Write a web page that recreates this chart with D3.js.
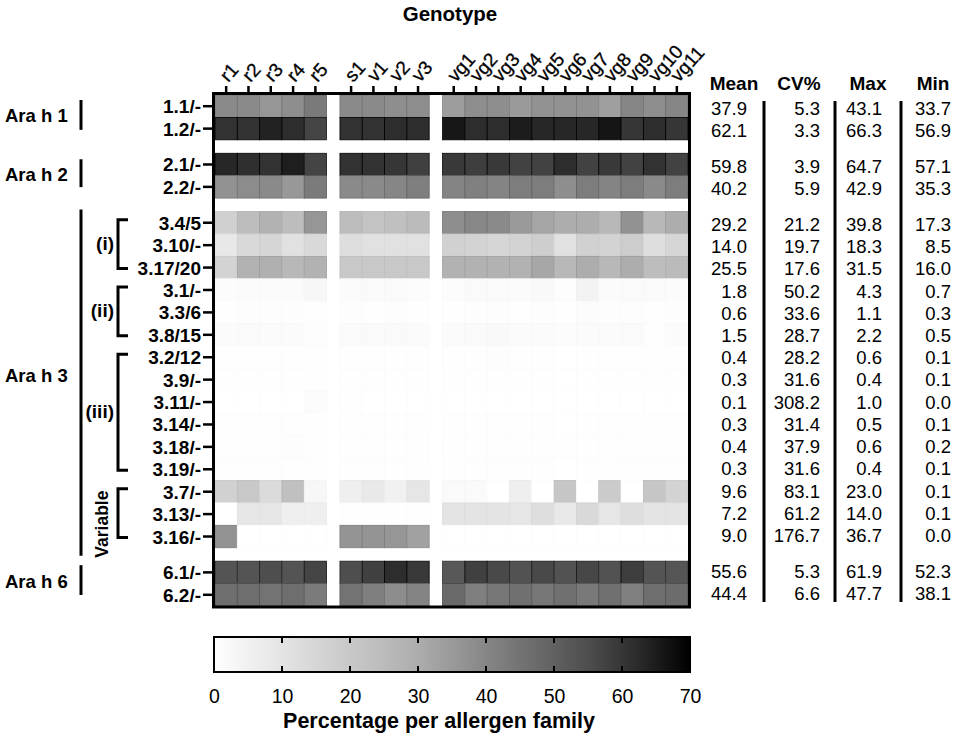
<!DOCTYPE html>
<html>
<head>
<meta charset="utf-8">
<script src="https://cdn.jsdelivr.net/npm/d3@7"></script>
<style>
  body { margin: 0; background: #fff; }
  text { font-family: "Liberation Sans", Arial, sans-serif; fill: #000; }
</style>
</head>
<body>
<script>
// genotypes (columns), in three blocks separated by a white gap
var genoR = ["r1","r2","r3","r4","r5"];
var genoSV = ["s1","v1","v2","v3"];
var genoVG = ["vg1","vg2","vg3","vg4","vg5","vg6","vg7","vg8","vg9","vg10","vg11"];

// isoform rows
var rowLabels = ["1.1/-","1.2/-","2.1/-","2.2/-","3.4/5","3.10/-","3.17/20","3.1/-","3.3/6","3.8/15",
                 "3.2/12","3.9/-","3.11/-","3.14/-","3.18/-","3.19/-","3.7/-","3.13/-","3.16/-","6.1/-","6.2/-"];
var rowBlock = [0,0,1,1,2,2,2,2,2,2,2,2,2,2,2,2,2,2,2,3,3];

// percentage per allergen family, one array per row (columns r1..vg11)
var ah1_1 = [39,39,36,38,43.1,39,39,38,38,34,38,38,35,37,37,37,33.7,40,38,40];
var ah1_2 = [61,61,64,62,56.9,61,61,62,62,66,62,62,65,63,63,63,66.3,60,62,60];
var ah2_1 = [63,61.5,61,64.7,57.1,61,61,60,58,59.5,58.5,59.5,57.5,57.5,62,57.5,59.5,57.5,61,57.5];
var ah2_2 = [37,38.5,39,35.3,42.9,39,39,40,42,40.5,41.5,40.5,42.5,42.5,38,42.5,40.5,42.5,39,42.5];
var ah3_4 = [17.3,24,28,24,36,24,22,23,25,38,39.8,39,35,32,30,30,26,37,26,30];
var ah3_10 = [8.5,14,15,11,14,12,11,11,11,17,16,15,16,18,11,17,16,18.3,12,15];
var ah3_17 = [16.0,28,29,26,28,20,20,20,20,28,28,28,28,31.5,26,30,26,30,24,25];
var ah3_1 = [1.2,1.5,1.5,1.5,3.0,1.5,1.8,1.8,1.2,1.0,1.8,2.0,1.5,2.2,0.7,4.3,1.5,1.8,2.0,1.5];
var ah3_3 = [0.5,0.8,0.6,0.7,0.4,0.6,0.5,0.7,0.4,0.3,0.6,0.7,0.5,0.6,0.4,1.1,0.6,0.7,0.5,0.6];
var ah3_8 = [1.5,1.8,1.6,1.6,0.8,1.6,1.7,1.8,1.5,1.4,2.0,2.2,1.6,1.6,1.2,1.4,1.5,1.7,0.5,1.3];
var ah3_2 = [0.4,0.5,0.5,0.5,0.3,0.5,0.4,0.4,0.3,0.3,0.5,0.6,0.4,0.4,0.1,0.3,0.4,0.5,0.3,0.4];
var ah3_9 = [0.3,0.4,0.3,0.4,0.2,0.3,0.3,0.4,0.3,0.2,0.3,0.4,0.3,0.3,0.1,0.3,0.3,0.4,0.2,0.3];
var ah3_11 = [0,0,0,0,1.0,0.3,0.1,0,0,0,0,0,0,0,0,0,0,0,0,0];
var ah3_14 = [0.3,0.4,0.3,0.5,0.2,0.3,0.3,0.4,0.2,0.2,0.3,0.4,0.3,0.3,0.1,0.3,0.3,0.4,0.2,0.3];
var ah3_18 = [0.4,0.5,0.4,0.6,0.3,0.4,0.4,0.5,0.3,0.3,0.4,0.5,0.4,0.4,0.2,0.4,0.4,0.5,0.3,0.4];
var ah3_19 = [0.3,0.3,0.4,0.4,0.2,0.3,0.4,0.3,0.2,0.2,0.3,0.3,0.4,0.3,0.1,0.3,0.2,0.4,0.3,0.3];
var ah3_7 = [17,20,13,23.0,3,6,8,5,9,2,2,0.1,6,0.1,21,0.1,19,0.1,21,16];
var ah3_13 = [0.1,9,9,6,6,0.2,0.2,0.2,0.2,10,10,10,9,12,8,14.0,9,12,10,10];
var ah3_16 = [36.7,0,0,0,0,36.5,36.5,36,33,0,0,0,0,0,0,0,0,0,0,0];
var ah6_1 = [53.5,53.5,55,53.5,57,55,58,61.9,59.5,52.3,58,56,54,56,54,56.5,54,58.5,53.5,53];
var ah6_2 = [46.5,46.5,45,46.5,43,45,42,38.1,40.5,47.7,42,44,46,44,46,43.5,46,41.5,46.5,47];

// summary table
var meanVals = ["37.9","62.1","59.8","40.2","29.2","14.0","25.5","1.8","0.6","1.5","0.4","0.3","0.1","0.3","0.4","0.3","9.6","7.2","9.0","55.6","44.4"];
var cvVals = ["5.3","3.3","3.9","5.9","21.2","19.7","17.6","50.2","33.6","28.7","28.2","31.6","308.2","31.4","37.9","31.6","83.1","61.2","176.7","5.3","6.6"];
var maxVals = ["43.1","66.3","64.7","42.9","39.8","18.3","31.5","4.3","1.1","2.2","0.6","0.4","1.0","0.5","0.6","0.4","23.0","14.0","36.7","61.9","47.7"];
var minVals = ["33.7","56.9","57.1","35.3","17.3","8.5","16.0","0.7","0.3","0.5","0.1","0.1","0.0","0.1","0.2","0.1","0.1","0.1","0.0","52.3","38.1"];
var colorTicks = [0,10,20,30,40,50,60,70];

var rowValues = [ah1_1,ah1_2,ah2_1,ah2_2,ah3_4,ah3_10,ah3_17,ah3_1,ah3_3,ah3_8,ah3_2,ah3_9,ah3_11,
                 ah3_14,ah3_18,ah3_19,ah3_7,ah3_13,ah3_16,ah6_1,ah6_2];

var genotypes = genoR.concat(genoSV, genoVG);
var colBlock = genotypes.map(function(g){ return genoR.indexOf(g) >= 0 ? 0 : (genoSV.indexOf(g) >= 0 ? 1 : 2); });

var GAP = 0.6;
var colUnit = genotypes.map(function(g,i){ return i + GAP*colBlock[i]; });
var rowUnit = rowLabels.map(function(r,i){ return i + GAP*rowBlock[i]; });

var x = d3.scaleLinear().domain([0, genotypes.length + 2*GAP]).range([215, 688]);
var y = d3.scaleLinear().domain([0, rowLabels.length + 3*GAP]).range([95, 606]);
var cw = x(1) - x(0), ch = y(1) - y(0);

// grey scale, white (0) to black (70)
var greyLevel = d3.scaleLinear().domain([0,15,30,40,55,62,70]).range([255,214,173,134,78,45,0]).clamp(true);
function grey(v){ var g = Math.round(greyLevel(v)); return d3.rgb(g,g,g).toString(); }

var svg = d3.select("body").append("svg")
  .attr("width", 957).attr("height", 749);

svg.append("text").attr("x", 450).attr("y", 21).attr("text-anchor","middle")
  .style("font-size","20.5px").style("font-weight","bold").text("Genotype");

// cells
var cells = [];
rowValues.forEach(function(arr, r){
  arr.forEach(function(v, c){ cells.push({r:r, c:c, v:v}); });
});

svg.append("g").selectAll("rect").data(cells).enter().append("rect")
  .attr("x", function(d){ return x(colUnit[d.c]); })
  .attr("y", function(d){ return y(rowUnit[d.r]); })
  .attr("width", cw).attr("height", ch)
  .attr("fill", function(d){ return grey(d.v); })
  .attr("stroke", function(d){ return grey(Math.min(70, d.v*1.15 + 1)); })
  .attr("stroke-width", 0.8);

// frame
svg.append("rect").attr("x", 213.5).attr("y", 93.5).attr("width", 476).attr("height", 513.5)
  .attr("fill","none").attr("stroke","#000").attr("stroke-width",3);

// column ticks and labels
svg.append("g").selectAll("line").data(genotypes).enter().append("line")
  .attr("x1", function(d,i){ return x(colUnit[i] + 0.5); })
  .attr("x2", function(d,i){ return x(colUnit[i] + 0.5); })
  .attr("y1", 86).attr("y2", 93)
  .attr("stroke","#000").attr("stroke-width",2.5);

svg.append("g").selectAll("text").data(genotypes).enter().append("text")
  .attr("transform", function(d,i){ return "translate(" + (x(colUnit[i] + 0.5) + 2) + ",83) rotate(-48)"; })
  .style("font-size","19px")
  .attr("stroke","#000").attr("stroke-width",0.3)
  .text(function(d){ return d; });

// row ticks and labels
svg.append("g").selectAll("line").data(rowLabels).enter().append("line")
  .attr("x1", 203).attr("x2", 213)
  .attr("y1", function(d,i){ return y(rowUnit[i] + 0.5); })
  .attr("y2", function(d,i){ return y(rowUnit[i] + 0.5); })
  .attr("stroke","#000").attr("stroke-width",2.5);

svg.append("g").selectAll("text").data(rowLabels).enter().append("text")
  .attr("x", 201)
  .attr("y", function(d,i){ return y(rowUnit[i] + 0.5) + 7; })
  .attr("text-anchor","end")
  .style("font-size","19px").style("font-weight","bold")
  .text(function(d){ return d; });

// allergen family labels with bars
var families = [
  {name:"Ara h 1", first:0, last:1, t:5, b:-10, dy:5},
  {name:"Ara h 2", first:2, last:3, t:6, b:-11, dy:5},
  {name:"Ara h 3", first:4, last:18, t:-2, b:8, dy:2},
  {name:"Ara h 6", first:19, last:20, t:4, b:-11, dy:4}
];
families.forEach(function(f){
  var top = y(rowUnit[f.first]), bot = y(rowUnit[f.last] + 1);
  svg.append("line").attr("x1",81).attr("x2",81)
    .attr("y1", top + f.t).attr("y2", bot + f.b)
    .attr("stroke","#000").attr("stroke-width",3);
  svg.append("text").attr("x", 5).attr("y", (top + bot)/2 + f.dy)
    .style("font-size","18.5px").style("font-weight","bold").text(f.name);
});

// Ara h 3 sub-groups with brackets
var subGroups = [
  {name:"(i)", first:4, last:6},
  {name:"(ii)", first:7, last:9},
  {name:"(iii)", first:10, last:15},
  {name:"Variable", first:16, last:18}
];
subGroups.forEach(function(s){
  var top = y(rowUnit[s.first] + 0.5) - 3, bot = y(rowUnit[s.last] + 0.5) + 1;
  svg.append("path")
    .attr("d", "M128," + top + "H118V" + bot + "H128")
    .attr("fill","none").attr("stroke","#000").attr("stroke-width",3);
  if (s.name === "Variable") {
    svg.append("text").attr("transform","translate(108," + ((top + bot)/2 + 11) + ") rotate(-90)")
      .attr("text-anchor","middle")
      .style("font-size","17.5px").style("font-weight","bold").text(s.name);
  } else {
    svg.append("text").attr("x", 114).attr("y", (top + bot)/2 + 6)
      .attr("text-anchor","end")
      .style("font-size","19px").style("font-weight","bold").text(s.name);
  }
});

// summary table
var tableCols = [
  {head:"Mean", vals:meanVals, right:747, hx:734},
  {head:"CV%", vals:cvVals, right:820, hx:799},
  {head:"Max", vals:maxVals, right:882, hx:868},
  {head:"Min", vals:minVals, right:951, hx:933}
];
tableCols.forEach(function(tc){
  svg.append("text").attr("x", tc.hx).attr("y", 90).attr("text-anchor","middle")
    .style("font-size","19px").style("font-weight","bold").text(tc.head);
  svg.append("g").selectAll("text").data(tc.vals).enter().append("text")
    .attr("x", tc.right)
    .attr("y", function(d,i){ var cy = y(rowUnit[i] + 0.5); return cy + 9 - (cy - 105)*0.008; })
    .attr("text-anchor","end")
    .style("font-size","18.5px")
    .text(function(d){ return d; });
});
[764, 835, 901].forEach(function(bx){
  svg.append("line").attr("x1",bx).attr("x2",bx).attr("y1",101).attr("y2",602)
    .attr("stroke","#000").attr("stroke-width",3);
});

// colour bar
var cx = d3.scaleLinear().domain([0,70]).range([214, 690]);
var grad = svg.append("defs").append("linearGradient").attr("id","greys")
  .attr("x1","0%").attr("x2","100%").attr("y1","0%").attr("y2","0%");
d3.range(0, 71, 2.5).forEach(function(v){
  grad.append("stop").attr("offset", (v/70*100) + "%").attr("stop-color", grey(v));
});
svg.append("rect").attr("x", cx(0)).attr("y", 637).attr("width", cx(70) - cx(0)).attr("height", 35)
  .attr("fill","url(#greys)").attr("stroke","#000").attr("stroke-width",2);

svg.append("g").selectAll("line.tt").data(colorTicks.slice(1,-1)).enter().append("line")
  .attr("x1", function(d){ return cx(d); }).attr("x2", function(d){ return cx(d); })
  .attr("y1", 638).attr("y2", 643).attr("stroke","#000").attr("stroke-width",2);
svg.append("g").selectAll("line.tb").data(colorTicks.slice(1,-1)).enter().append("line")
  .attr("x1", function(d){ return cx(d); }).attr("x2", function(d){ return cx(d); })
  .attr("y1", 666).attr("y2", 671).attr("stroke","#000").attr("stroke-width",2);

var cAxis = svg.append("g").attr("transform","translate(0,672)")
  .call(d3.axisBottom(cx).tickValues(colorTicks).tickSize(0).tickPadding(17));
cAxis.select(".domain").remove();
cAxis.selectAll("text").style("font-size","19.5px")
  .style("font-family","'Liberation Sans', Arial, sans-serif").attr("fill","#000");

svg.append("text").attr("x", 439).attr("y", 728).attr("text-anchor","middle")
  .style("font-size","21.5px").style("font-weight","bold").text("Percentage per allergen family");
</script>
</body>
</html>
